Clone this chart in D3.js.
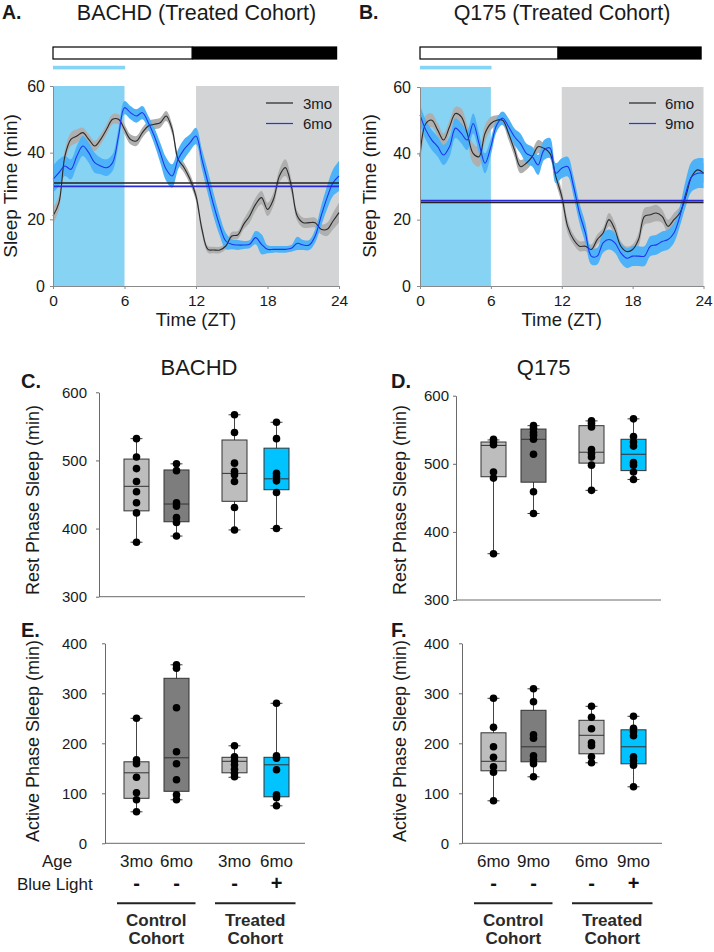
<!DOCTYPE html>
<html><head><meta charset="utf-8">
<script src="https://cdn.jsdelivr.net/npm/d3@7"></script>
<style>
body{margin:0;background:#fff;}
svg{display:block;font-family:Arial,"Liberation Sans",sans-serif;}
</style></head><body>
<svg id="c" width="714" height="952"></svg>
<script>
// ---------------- DATA ----------------
const hours = [0,0.5,1,1.5,2,2.5,3,3.5,4,4.5,5,5.5,6,6.5,7,7.5,8,8.5,9,9.5,10,10.5,11,11.5,12,12.5,13,13.5,14,14.5,15,15.5,16,16.5,17,17.5,18,18.5,19,19.5,20,20.5,21,21.5,22,22.5,23,23.5,24];
const timeTicks = [0,6,12,18,24];
const sleepTicks = [0,20,40,60];

// Panel A: BACHD treated cohort
const bachd3mo = [21,25,39,44,45,46,44,42,44,47, 50,50,47,44,43.5,46,48,48.5,49,51, 47,38,35.5,32,27,17,11,10.8,10.8,12, 15,15.3,18.5,21,24.5,26.5,23,26,33,35.5, 30,21,19,19,19,17,17,19.5,22];
const bachd3moSem = [2.5,2,2,2,2,1.5,1.5,1.5,1.5,1.5, 1.5,1.5,1.5,1.5,1.5,1.5,1.5,1.5,1.5,1.5, 1.5,1.5,1.5,1.5,1.5,1.5,1,1,1,1, 1.2,1.2,1.5,2,2,2,2,2,2,2.5, 2,1.5,1.5,1.5,1.5,1.5,2,2.5,3];
const bachd6mo = [32,34,36,35,39,42,40,37,36,35.5, 37,45,53.5,52,51,52,49,45,40,35, 33,38,41,43,45,38,31,24,18,13.5, 12.5,12.3,12.3,12.5,14.5,12.5,11,11,11,11, 11.3,12.8,12.3,12.3,15,21,26.5,31,33];
const bachd6moSem = [4,4,3,3,3,3,3,3,2.5,2.5, 2.5,2.5,2,2,2,2,2,2.5,3,3.5, 3.5,3,3,2.5,2.5,3,3.5,3.5,3,2.5, 1.5,1.5,1.2,1.2,2,3,1.2,1,1,1, 1,2,1.5,1.5,2,3,3.5,4,4.5];
const bachdMean3mo = 30.9, bachdMean6mo = 29.9;

// Panel B: Q175 treated cohort
const q175_6mo = [39,49,50,47,44,48,52,51,46,40, 39,46,49,50,50,46,41,36,37,39, 42,41.5,40,33,27,18,14,12,12,11, 14,16,20,17,12,10.4,11,14,21,21.5, 22,21,18,20,22,27,33,35,34];
const q175_6moSem = [3,2.5,2,2,2,2,2,2.5,2.5,3, 3,2.5,2,1.5,1.5,2,2,2,2,2, 2,1.5,1.5,2,2,2,1.5,1.5,1.5,1.5, 1.5,1.5,2,2,1.5,1.5,1.5,2,2.5,2.5, 2.5,2,2,2,2,2,2.5,3,3];
const q175_9mo = [51.6,47,44,42,39.5,42,47.6,46,44,49, 43,37,42,48.6,50.6,48,45,43,40,39, 36.5,41,41.6,34,35.5,36,30,22,16,9, 9,13,14,13,10,8.4,9,9,9,12, 12.4,13.4,14,16,21,28,33,34,34];
const q175_9moSem = [3,3,3,3,3,3,3,3,3,3, 3,3,2.5,2,2,2.5,2.5,3,3,3, 3,3,3,3,3,3,3,3,3,2.5, 2.5,3,3,3,3,3,3,3,3,3, 3,3,3,3,3,4,4.5,4.5,4.5];
const q175Mean6mo = 25.2, q175Mean9mo = 25.8;

// Box plots: stats = [whiskerLow, Q1, median, Q3, whiskerHigh]
const bachdAges = ["3mo","6mo","3mo","6mo"];
const q175Ages = ["6mo","9mo","6mo","9mo"];
const blueLight = ["-","-","-","+"];
const cohorts = [["Control","Cohort"],["Treated","Cohort"]];
const restTicks = [300,400,500,600];
const activeTicks = [0,100,200,300,400];

const bachdRestStats = [[380,426,462,502,532],[389,410,436,486,495],[398,440,481,530,567],[400,457,473,518,556]];
const bachdRestPts = [[532,505,488,469,454,438,423,380],[495,485,438,433,416,409,389],[567,541,496,484,479,469,431,398],[556,532,481,476,470,453,400]];
const q175RestStats = [[368,481,527,532,535],[427,473,536,551,556],[461,501,517,556,563],[477,490,514,536,566]];
const q175RestPts = [[536,532,528,488,479,368],[556,552,546,542,536,514,459,427],[563,559,554,521,515,510,498,461],[566,540,532,526,502,498,488,477]];
const bachdActStats = [[63,90,141,163,250],[87,104,171,330,357],[132,141,164,172,195],[75,93,157,172,280]];
const bachdActPts = [[250,167,159,132,101,87,63],[357,350,271,183,159,127,97,87],[195,173,165,157,148,140,133],[280,175,170,147,97,91,75]];
const q175ActStats = [[85,145,164,221,290],[133,163,193,266,309],[161,179,216,246,274],[113,159,193,227,254]];
const q175ActPts = [[290,232,193,172,153,142,85],[309,283,217,210,175,167,159,133],[274,252,229,201,195,173,161],[254,230,223,215,173,165,156,113]];

const boxColors = ["#bdbdbd","#7d7d7d","#bdbdbd","#00c3ff"];

// ---------------- DRAW ----------------
const svg = d3.select("#c");
const TXT = "#1a1a1a";

function label(x,y,t,size,opts={}){
  const e = svg.append("text").attr("x",x).attr("y",y).text(t)
    .attr("font-size",size).attr("fill",opts.fill||TXT)
    .attr("text-anchor",opts.anchor||"start");
  if(opts.bold) e.attr("font-weight","bold");
  if(opts.rot) e.attr("transform",`rotate(-90,${x},${y})`);
  return e;
}

function timePanel(cfg){
  const g = svg.append("g");
  const x = d3.scaleLinear().domain([0,24]).range([cfg.x0,cfg.x1]);
  const y = d3.scaleLinear().domain([0,60]).range([cfg.yb,cfg.yt]);
  // light/dark bar
  g.append("rect").attr("x",x(0)).attr("y",47).attr("width",x(11.67)-x(0)).attr("height",12)
    .attr("fill","#fff").attr("stroke","#000").attr("stroke-width",1.2);
  g.append("rect").attr("x",x(11.67)).attr("y",46.4).attr("width",x(23.85)-x(11.67)).attr("height",13.2).attr("fill","#000");
  // blue light bar
  g.append("rect").attr("x",x(0)).attr("y",65.8).attr("width",x(6.05)-x(0)).attr("height",3.6).attr("fill","#85d3f5");
  // shading
  g.append("rect").attr("x",x(0)).attr("y",y(60)).attr("width",x(6)-x(0)).attr("height",y(0)-y(60)).attr("fill","#87d3f3");
  g.append("rect").attr("x",x(12)).attr("y",y(60)).attr("width",x(24)-x(12)).attr("height",y(0)-y(60)).attr("fill","#d3d4d6");
  const curve = d3.curveCatmullRom.alpha(0.5);
  cfg.series.forEach(s=>{
    const area = d3.area().x((d,i)=>x(hours[i])).y0((d,i)=>y(d - s.sem[i])).y1((d,i)=>y(d + s.sem[i])).curve(curve);
    g.append("path").attr("d",area(s.vals)).attr("fill",s.band);
  });
  cfg.series.forEach(s=>{
    const line = d3.line().x((d,i)=>x(hours[i])).y(d=>y(d)).curve(curve);
    g.append("path").attr("d",line(s.vals)).attr("fill","none").attr("stroke",s.line).attr("stroke-width",1.1);
  });
  cfg.series.forEach(s=>{
    g.append("line").attr("x1",x(0)).attr("x2",x(24)).attr("y1",y(s.mean)).attr("y2",y(s.mean))
      .attr("stroke",s.meanColor).attr("stroke-width",1.6);
  });
  // axes
  const ax = g.append("g").attr("transform",`translate(${cfg.x0},0)`)
    .call(d3.axisLeft(y).tickValues(sleepTicks).tickSize(3).tickSizeOuter(0).tickPadding(cfg.yPad));
  const bx = g.append("g").attr("transform",`translate(0,${cfg.yb})`)
    .call(d3.axisBottom(x).tickValues(timeTicks).tickSize(3).tickSizeOuter(0).tickPadding(5.5));
  ax.selectAll("text").attr("font-size",16);
  bx.selectAll("text").attr("font-size",15.5);
  [ax,bx].forEach(a=>{
    a.selectAll("path,line").attr("stroke","#8a8a8a");
    a.selectAll("text").attr("fill",TXT).attr("font-family","Arial,'Liberation Sans',sans-serif");
  });
  // legend
  cfg.series.forEach((s,i)=>{
    const ly = 103 + i*20.5;
    g.append("line").attr("x1",cfg.legX).attr("x2",cfg.legX+27).attr("y1",ly).attr("y2",ly).attr("stroke",s.legColor).attr("stroke-width",1.2);
    label(cfg.legTX, ly+5.5, s.name, 15);
  });
  label(cfg.ylabX, 186, "Sleep Time (min)", 19, {anchor:"middle", rot:true});
  label((cfg.x0+cfg.x1)/2, 326, "Time (ZT)", 18.5, {anchor:"middle"});
}

timePanel({x0:53,x1:339,yb:286,yt:86,yPad:5,legX:266,legTX:303,ylabX:16.5,
  series:[
    {name:"3mo",vals:bachd3mo,sem:bachd3moSem,band:"#afafaf",line:"#2b2b2b",mean:bachdMean3mo,meanColor:"#222",legColor:"#222"},
    {name:"6mo",vals:bachd6mo,sem:bachd6moSem,band:"#4db2f7",line:"#1f35f0",mean:bachdMean6mo,meanColor:"#2a2ad8",legColor:"#1f35f0"}
  ]});
timePanel({x0:420,x1:703.5,yb:286,yt:87,yPad:6,legX:629,legTX:665,ylabX:376,
  series:[
    {name:"6mo",vals:q175_6mo,sem:q175_6moSem,band:"#afafaf",line:"#2b2b2b",mean:q175Mean6mo,meanColor:"#222",legColor:"#222"},
    {name:"9mo",vals:q175_9mo,sem:q175_9moSem,band:"#4db2f7",line:"#1f35f0",mean:q175Mean9mo,meanColor:"#2a2ad8",legColor:"#1f35f0"}
  ]});

// Titles
label(2,18.5,"A.",19.5,{bold:true});
label(196.5,19.5,"BACHD (Treated Cohort)",21.5,{anchor:"middle"});
label(359,18.5,"B.",19.5,{bold:true});
label(562,19.5,"Q175 (Treated Cohort)",21.5,{anchor:"middle"});

// box panels
const slotIdx = [0,1,2.45,3.5];
function boxPanel(cfg){
  const g = svg.append("g");
  const y = d3.scaleLinear().domain(cfg.domain).range([cfg.yb,cfg.yt]);
  const slot = d3.scaleLinear().domain([0,3.5]).range([cfg.c0, cfg.c0+140]);
  const bw = 25, cw = 12;
  // axes
  const ax = g.append("g").attr("transform",`translate(${cfg.ax},0)`)
    .call(d3.axisLeft(y).tickValues(cfg.ticks).tickSize(3).tickSizeOuter(0).tickPadding(cfg.pad));
  ax.selectAll("path,line").attr("stroke","#6a6a6a");
  ax.selectAll("text").attr("font-size",15).attr("fill",TXT).attr("font-family","Arial,'Liberation Sans',sans-serif");
  g.append("line").attr("x1",cfg.ax).attr("x2",cfg.xEnd).attr("y1",cfg.yb).attr("y2",cfg.yb).attr("stroke","#6a6a6a");
  cfg.stats.forEach((s,i)=>{
    const cx = slot(slotIdx[i]);
    g.append("line").attr("x1",cx).attr("x2",cx).attr("y1",y(s[0])).attr("y2",y(s[4])).attr("stroke","#444");
    [s[0],s[4]].forEach(v=>g.append("line").attr("x1",cx-cw/2).attr("x2",cx+cw/2).attr("y1",y(v)).attr("y2",y(v)).attr("stroke","#444"));
    g.append("rect").attr("x",cx-bw/2).attr("y",y(s[3])).attr("width",bw).attr("height",y(s[1])-y(s[3]))
      .attr("fill",boxColors[i]).attr("stroke","#333").attr("stroke-width",1);
    g.append("line").attr("x1",cx-bw/2).attr("x2",cx+bw/2).attr("y1",y(s[2])).attr("y2",y(s[2])).attr("stroke","#333");
    cfg.pts[i].forEach(v=>g.append("circle").attr("cx",cx).attr("cy",y(v)).attr("r",3.8).attr("fill","#000"));
  });
  label(cfg.ylabX, cfg.ylabY, cfg.ylab, 18, {anchor:"middle", rot:true});
  return slot;
}

boxPanel({domain:[300,600],ticks:restTicks,yb:596.7,yt:392.3,ax:99,pad:9,xEnd:305,c0:136.5,
  stats:bachdRestStats,pts:bachdRestPts,ylab:"Rest Phase Sleep (min)",ylabX:38.5,ylabY:500});
boxPanel({domain:[300,600],ticks:restTicks,yb:600,yt:395.7,ax:456,pad:4,xEnd:661,c0:493.5,
  stats:q175RestStats,pts:q175RestPts,ylab:"Rest Phase Sleep (min)",ylabX:405.5,ylabY:500});
const sE = boxPanel({domain:[0,400],ticks:activeTicks,yb:843.3,yt:643.3,ax:105,pad:15,xEnd:305,c0:136.5,
  stats:bachdActStats,pts:bachdActPts,ylab:"Active Phase Sleep (min)",ylabX:38.5,ylabY:741});
const sF = boxPanel({domain:[0,400],ticks:activeTicks,yb:843.3,yt:643.3,ax:462,pad:10,xEnd:662,c0:493.5,
  stats:q175ActStats,pts:q175ActPts,ylab:"Active Phase Sleep (min)",ylabX:405.5,ylabY:741});

label(199,375,"BACHD",22,{anchor:"middle"});
label(543.7,375,"Q175",22,{anchor:"middle"});
label(21,388,"C.",20,{bold:true});
label(391,388,"D.",20,{bold:true});
label(21,637,"E.",20,{bold:true});
label(391,637,"F.",20,{bold:true});

// bottom category labels
function catLabels(slot, ages, showNames){
  ages.forEach((a,i)=>{
    const cx = slot(slotIdx[i]);
    label(cx,866.7,a,17,{anchor:"middle"});
    label(cx,889.5,blueLight[i],20,{anchor:"middle",bold:true,fill:"#111"});
  });
  const pairs = [[0,1],[2,3]];
  pairs.forEach((p,k)=>{
    const x1 = slot(slotIdx[p[0]])-19.5, x2 = slot(slotIdx[p[1]])+19;
    svg.append("line").attr("x1",x1).attr("x2",x2).attr("y1",903.3).attr("y2",903.3).attr("stroke","#222").attr("stroke-width",2);
    label((x1+x2)/2,926,cohorts[k][0],17,{anchor:"middle",bold:true,fill:"#2a2a2a"});
    label((x1+x2)/2,944.3,cohorts[k][1],17,{anchor:"middle",bold:true,fill:"#2a2a2a"});
  });
  if(showNames){
    label(42,866.7,"Age",17);
    label(17,889.5,"Blue Light",17);
  }
}
catLabels(sE, bachdAges, true);
catLabels(sF, q175Ages, false);
</script>
</body></html>
